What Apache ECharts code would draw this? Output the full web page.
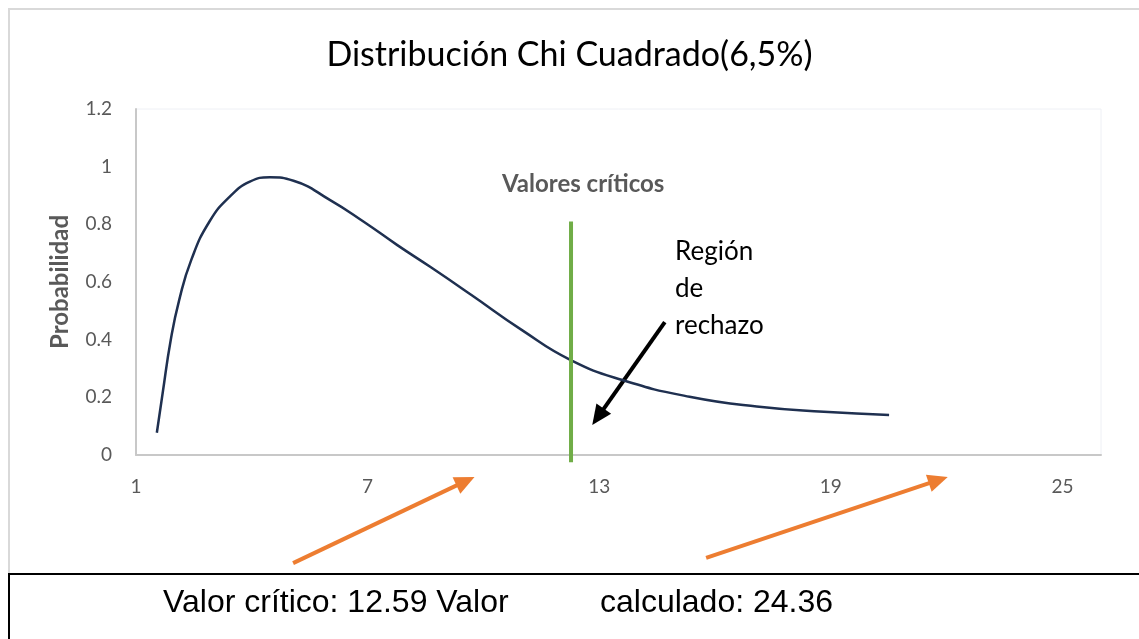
<!DOCTYPE html>
<html>
<head>
<meta charset="utf-8">
<script src="https://cdn.jsdelivr.net/npm/echarts@6/dist/echarts.min.js"></script>
<style>
  html, body { margin: 0; padding: 0; background: #fff; }
  #chart { width: 1139px; height: 639px; }
</style>
</head>
<body>
<div id="chart"></div>
<script>
// curva
const curvaX = [1.54, 1.69, 1.9, 2.12, 2.43, 2.9, 3.43, 3.95, 4.47, 5.08, 6.03, 6.9, 7.77, 8.64, 9.69, 10.99, 12.25, 13.6, 15.34, 17.08, 18.82, 20.51];
const curvaY = [0.077, 0.214, 0.399, 0.538, 0.676, 0.809, 0.896, 0.948, 0.963, 0.951, 0.884, 0.809, 0.728, 0.651, 0.555, 0.434, 0.33, 0.26, 0.202, 0.168, 0.15, 0.139];

// linea verde de valores criticos
const criticoX = [12.27, 12.27];
const criticoY = [-0.025, 0.81];

// flechas [desde, hasta] en coordenadas de datos
const flechaNegra = [[14.7, 0.461], [12.82, 0.104]];
const flechasNaranja = [
    [[5.07, -0.375], [9.77, -0.076]],
    [[15.77, -0.357], [22.03, -0.076]]
];

const xTicks = [1, 7, 13, 19, 25];

const gris = '#595959';
const fuente = 'Lato, "Open Sans", sans-serif';

const chart = echarts.init(document.getElementById('chart'));

const option = {
    animation: false,
    backgroundColor: '#fff',
    title: {
        text: 'Distribución Chi Cuadrado(6,5%)',
        left: 'center',
        top: 33,
        textStyle: { fontFamily: fuente, fontSize: 34, fontWeight: 'normal', color: '#000' }
    },
    grid: {
        left: 136, right: 38, top: 109, bottom: 184,
        show: true, borderColor: '#EEF0F5', borderWidth: 1
    },
    xAxis: {
        type: 'value', min: 1, max: 26, interval: 6,
        axisLine: { show: true, onZero: false, lineStyle: { color: '#C8C8C8', width: 2 } },
        axisTick: { show: false },
        splitLine: { show: false },
        axisLabel: {
            margin: 22, color: gris, fontFamily: fuente, fontSize: 19,
            formatter: v => xTicks.includes(v) ? String(v) : ''
        }
    },
    yAxis: {
        type: 'value', min: 0, max: 1.2, interval: 0.2,
        name: 'Probabilidad', nameLocation: 'middle', nameGap: 64,
        nameTextStyle: { color: gris, fontFamily: fuente, fontSize: 24, fontWeight: 'bold' },
        axisLine: { show: true, lineStyle: { color: '#C8C8C8', width: 2 } },
        axisTick: { show: false },
        splitLine: { show: false },
        axisLabel: { margin: 24, color: gris, fontFamily: fuente, fontSize: 19 }
    },
    series: [
        {
            type: 'line',
            data: curvaX.map((x, i) => [x, curvaY[i]]),
            smooth: true,
            showSymbol: false,
            lineStyle: { color: '#1F3050', width: 2.5 }
        },
        {
            type: 'line',
            data: criticoX.map((x, i) => [x, criticoY[i]]),
            clip: false,
            showSymbol: false,
            lineStyle: { color: '#70AD47', width: 4 },
            z: 3
        }
    ],
    graphic: [
        {
            id: 'marco', type: 'polyline', silent: true,
            shape: { points: [[1145, 9], [9, 9], [9, 574]] },
            style: { stroke: '#D9D9D9', lineWidth: 2, fill: null }
        },
        {
            id: 'caja', type: 'rect', silent: true,
            shape: { x: 9, y: 574, width: 1140, height: 80 },
            style: { stroke: '#000', lineWidth: 2, fill: '#fff' }
        },
        {
            id: 'txt1', type: 'text', left: 163, top: 587,
            style: { text: 'Valor crítico: 12.59 Valor', font: '32px "Liberation Sans", Arial, sans-serif', fill: '#000' }
        },
        {
            id: 'txt2', type: 'text', left: 600, top: 587,
            style: { text: 'calculado: 24.36', font: '32px "Liberation Sans", Arial, sans-serif', fill: '#000' }
        },
        {
            id: 'valcrit', type: 'text', left: 502, top: 172,
            style: { text: 'Valores críticos', font: 'bold 24px Lato, "Open Sans", sans-serif', fill: gris }
        },
        {
            id: 'region', type: 'text', left: 675, top: 233,
            style: { text: 'Región\nde\nrechazo', font: '26px Lato, "Open Sans", sans-serif', lineHeight: 37, fill: '#000' }
        }
    ]
};

chart.setOption(option);

// flechas de anotacion a partir de coordenadas de datos
function flecha(id, par, color, ancho, cabeza) {
    const p0 = chart.convertToPixel({ gridIndex: 0 }, par[0]);
    const p1 = chart.convertToPixel({ gridIndex: 0 }, par[1]);
    const dx = p1[0] - p0[0], dy = p1[1] - p0[1];
    const len = Math.hypot(dx, dy);
    const ux = dx / len, uy = dy / len;
    const bx = p1[0] - ux * cabeza, by = p1[1] - uy * cabeza;
    const nx = -uy * cabeza * 0.45, ny = ux * cabeza * 0.45;
    return [
        {
            id: id + '_l', type: 'line', silent: true,
            shape: { x1: p0[0], y1: p0[1], x2: bx + ux * 2, y2: by + uy * 2 },
            style: { stroke: color, lineWidth: ancho }
        },
        {
            id: id + '_h', type: 'polygon', silent: true,
            shape: { points: [[p1[0], p1[1]], [bx + nx, by + ny], [bx - nx, by - ny]] },
            style: { fill: color }
        }
    ];
}

let extra = flecha('negra', flechaNegra, '#000', 4, 20);
flechasNaranja.forEach((f, i) => {
    extra = extra.concat(flecha('naranja' + i, f, '#ED7D31', 4, 20));
});
chart.setOption({ graphic: extra });
</script>
</body>
</html>
